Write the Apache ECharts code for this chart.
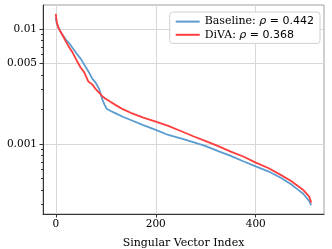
<!DOCTYPE html>
<html>
<head>
<meta charset="utf-8">
<script src="https://cdn.jsdelivr.net/npm/echarts@6/dist/echarts.min.js"></script>
<style>html,body{margin:0;padding:0;background:#fff;}#c{width:332px;height:249px;}</style>
</head>
<body>
<div id="c"></div>
<script>
const seriesNames = ['Baseline', 'DiVA'];
const rhoValues = ['0.442', '0.368'];
const indices = [0,2,5,10,15,20,27,34,42,50,57,65,73,80,87,93,98,102,110,120,135,150,175,200,225,250,275,300,325,350,375,400,425,450,470,485,495,502,507,511];
const baseline = [0.0125,0.0112,0.0104,0.0094,0.0087,0.0081,0.0075,0.0068,0.0061,0.0055,0.0049,0.0043,0.0037,0.0034,0.0030,0.00245,0.00218,0.00202,0.00194,0.00185,0.00172,0.00162,0.00146,0.00133,0.00120,0.00112,0.00104,0.00096,0.00087,0.00079,0.00071,0.00064,0.00058,0.00051,0.00045,0.00040,0.00037,0.00034,0.00032,0.000295];
const diva = [0.0135,0.0115,0.0103,0.0094,0.0086,0.0078,0.0069,0.0062,0.0053,0.0046,0.0042,0.0035,0.0033,0.0030,0.00278,0.00261,0.00250,0.00243,0.00232,0.00218,0.00200,0.00187,0.00170,0.00157,0.00144,0.00130,0.00117,0.00106,0.00096,0.00086,0.00078,0.00069,0.00062,0.00054,0.00048,0.00043,0.00040,0.00037,0.00035,0.00031];
const xTicks = [0, 200, 400];
const yTicks = [0.001, 0.005, 0.01];
const yMinorTicks = [0.0003,0.0004,0.0005,0.0006,0.0007,0.0008,0.0009,0.002,0.003,0.004,0.006,0.007,0.008,0.009];
const yTickLabels = ['0.001', '0.005', '0.01'];
const colors = ['#5a9bd0', '#ff3d3d'];

const serif = 'DejaVu Serif';
const yMin = 0.000247, yMax = 0.01615;
const chart = echarts.init(document.getElementById('c'), null, {renderer: 'canvas'});
const yBase = {
  type: 'log', min: yMin, max: yMax, gridIndex: 0, position: 'left'
};
chart.setOption({
  animation: false,
  grid: {left: 43, top: 5, right: 8, bottom: 35, show: true, borderColor: '#a0a0a0', borderWidth: 1, outerBoundsMode: 'none'},
  legend: {
    orient: 'vertical', right: 12, top: 12,
    padding: [4, 6, 3, 5], itemGap: 2, itemWidth: 24, itemHeight: 14,
    backgroundColor: '#fff', borderColor: '#d0d0d0', borderWidth: 1, borderRadius: 3,
    itemStyle: {opacity: 0},
    data: seriesNames,
    formatter: function (name) {
      const i = seriesNames.indexOf(name);
      return '{n|' + name + ': }{r|ρ}{m| = ' + rhoValues[i] + '}';
    },
    textStyle: {
      rich: {
        n: {fontFamily: serif, fontSize: 11, color: '#000'},
        r: {fontFamily: 'DejaVu Sans', fontStyle: 'italic', fontSize: 11, color: '#000'},
        m: {fontFamily: 'DejaVu Sans', fontSize: 11, color: '#000'}
      }
    }
  },
  xAxis: {
    type: 'value', min: -25.55, max: 536.55,
    name: 'Singular Vector Index', nameLocation: 'middle', nameGap: 24,
    nameTextStyle: {fontFamily: serif, fontSize: 11, color: '#000'},
    axisLine: {show: true, onZero: false, lineStyle: {color: '#333', width: 1}},
    axisTick: {show: true, customValues: xTicks, length: 3.5, lineStyle: {color: '#333'}},
    axisLabel: {customValues: xTicks, fontFamily: serif, fontSize: 10.5, color: '#000', margin: 5},
    splitLine: {show: true, lineStyle: {color: '#d8d8d8', width: 1}},
    minorTick: {show: false}
  },
  yAxis: [
    Object.assign({}, yBase, {
      axisLine: {show: true, onZero: false, lineStyle: {color: '#333', width: 1}},
      axisTick: {show: true, customValues: yTicks, length: 3.5, lineStyle: {color: '#333'}},
      axisLabel: {customValues: yTicks, fontFamily: serif, fontSize: 10.5, color: '#000', margin: 6,
        formatter: function (v) {
          for (let i = 0; i < yTicks.length; i++) { if (Math.abs(v - yTicks[i]) < 1e-9) return yTickLabels[i]; }
          return '';
        }},
      splitLine: {show: true, lineStyle: {color: '#d8d8d8', width: 1}}
    }),
    Object.assign({}, yBase, {
      axisLine: {show: false, onZero: false},
      axisTick: {show: true, customValues: yMinorTicks, length: 2, lineStyle: {color: '#333'}},
      axisLabel: {show: false},
      splitLine: {show: false}
    })
  ],
  series: seriesNames.map(function (name, k) {
    const vals = k === 0 ? baseline : diva;
    return {
      name: name, type: 'line', yAxisIndex: 0, showSymbol: false, symbol: 'none',
      color: colors[k],
      lineStyle: {color: colors[k], width: 1.8},
      data: indices.map(function (x, i) { return [x, vals[i]]; })
    };
  })
});
</script>
</body>
</html>
